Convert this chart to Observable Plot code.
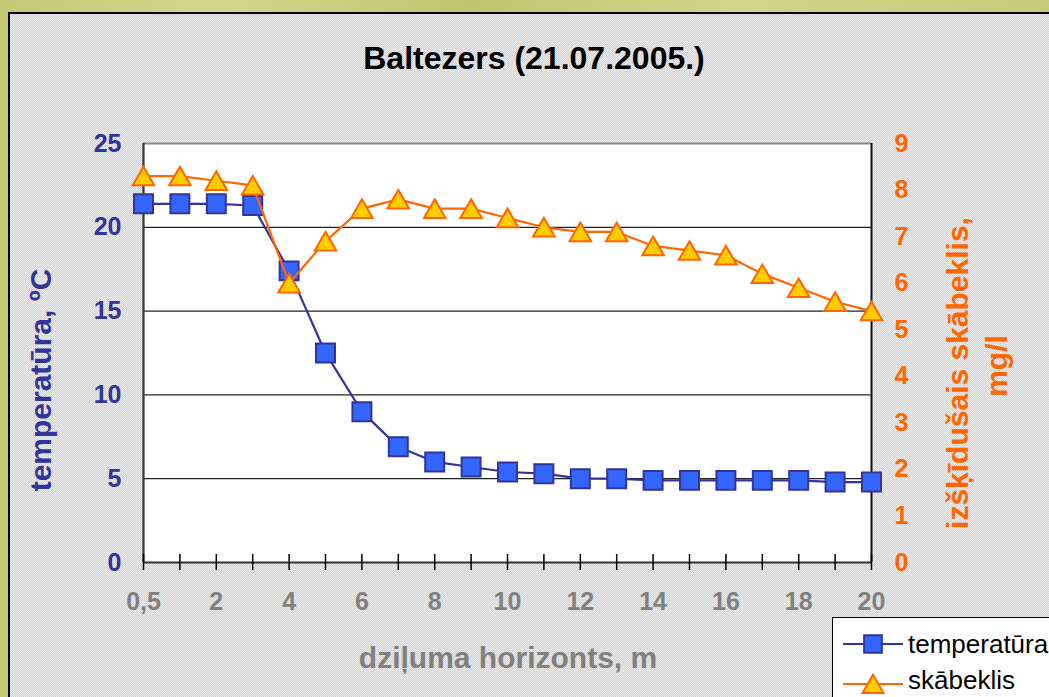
<!DOCTYPE html>
<html>
<head>
<meta charset="utf-8">
<script src="https://cdn.jsdelivr.net/npm/d3@7"></script>
<script src="https://cdn.jsdelivr.net/npm/@observablehq/plot@0.6"></script>
<style>
html, body { margin: 0; padding: 0; }
#page { position: relative; width: 1049px; height: 697px; overflow: hidden;
  background: linear-gradient(90deg, #c3c873 0%, #d4d68c 20%, #c0c56e 45%, #d2d58a 70%, #c6ca78 100%);
  font-family: "Liberation Sans", Arial, sans-serif; }
#panel { position: absolute; left: 8px; top: 12px; width: 1100px; height: 800px; box-sizing: border-box;
  border: 2px solid #000;
  background: repeating-conic-gradient(#d3d3d3 0 25%, #ebebeb 0 50%) 0 0 / 2px 2px; }
#chart { position: absolute; left: 0; top: 0; }
.t { position: absolute; white-space: nowrap; font-weight: bold; line-height: 1; transform: translate(-50%, -50%); }
.r { transform: translate(-50%, -50%) rotate(-90deg); }
#legend { position: absolute; left: 832px; top: 617px; width: 300px; height: 200px; background: #fff; border: 1px solid #000; }
#legend div { position: absolute; left: 75px; font-size: 26px; line-height: 1; color: #000; white-space: nowrap; transform: translateY(-50%); }
#legend svg { position: absolute; left: 0; top: 0; }
</style>
</head>
<body>
<div id="page">
  <div id="panel"></div>
  <div id="chart"></div>
  <div class="t" style="left:534px; top:58px; font-size:32px; color:#000;">Baltezers (21.07.2005.)</div>
  <div class="t r" style="left:41px; top:380px; font-size:30px; color:#333399;">temperatūra, ºC</div>
  <div class="t r" style="left:958px; top:373px; font-size:30px; color:#ff6600;">izšķīdušais skābeklis,</div>
  <div class="t r" style="left:997px; top:366px; font-size:30px; color:#ff6600;">mg/l</div>
  <div class="t" style="left:508px; top:658px; font-size:30px; color:#808080;">dziļuma horizonts, m</div>
  <div id="legend">
    <svg width="300" height="200" id="legsvg"></svg>
    <div style="top:26px;">temperatūra</div>
    <div style="top:62px;">skābeklis</div>
  </div>
</div>
<script>
// Categories (depth horizons, m)
const depth = ["0,5","1","2","3","4","5","6","7","8","9","10","11","12","13","14","15","16","17","18","19","20"];
// Series values
const temperature = [21.4,21.4,21.4,21.3,17.4,12.5,9.0,6.9,6.0,5.7,5.4,5.3,5.0,5.0,4.9,4.9,4.9,4.9,4.9,4.8,4.8];
const oxygen = [8.3,8.3,8.2,8.1,6.0,6.9,7.6,7.8,7.6,7.6,7.4,7.2,7.1,7.1,6.8,6.7,6.6,6.2,5.9,5.6,5.4];
// Tick labels
const depthLabels = ["0,5","2","4","6","8","10","12","14","16","18","20"];
const tempTicks = [0,5,10,15,20,25];
const oxyTicks = [0,1,2,3,4,5,6,7,8,9];

const tempMax = 25, oxyMax = 9;
const k = tempMax / oxyMax;
const rows = depth.map((d, i) => ({depth: d, temperature: temperature[i], oxygen: oxygen[i]}));
const first = depth[0], last = depth[depth.length - 1];

const chart = Plot.plot({
  width: 1049, height: 697,
  marginLeft: 143, marginRight: 178, marginTop: 143, marginBottom: 135,
  style: {background: "transparent", fontFamily: "'Liberation Sans', Arial, sans-serif", fontWeight: "bold", fontSize: "25px", overflow: "visible"},
  x: {type: "point", domain: depth, padding: 0, round: false},
  y: {domain: [0, tempMax]},
  marks: [
    Plot.frame({fill: "white", stroke: null}),
    Plot.ruleY(tempTicks.filter(v => v > 0 && v < tempMax), {y: d => d, stroke: "#222", strokeWidth: 1.2}),
    Plot.ruleY([tempMax], {y: d => d, stroke: "#888", strokeWidth: 2}),
    // axis lines
    Plot.ruleX([first], {x: d => d, y1: 0, y2: tempMax, stroke: "#333", strokeWidth: 2.2}),
    Plot.ruleX([last], {x: d => d, y1: 0, y2: tempMax, stroke: "#111", strokeWidth: 2}),
    Plot.ruleY([0], {y: d => d, stroke: "#333", strokeWidth: 2.2}),
    // cross tick marks
    Plot.ruleX(depth, {x: d => d, y1: 0, y2: 0, insetTop: -8, insetBottom: -8, stroke: "#000", strokeWidth: 1.5}),
    Plot.ruleY(tempTicks, {y: d => d, x1: first, x2: first, insetLeft: -9, insetRight: -9, stroke: "#000", strokeWidth: 1.5}),
    Plot.ruleY(oxyTicks.map(v => v * k), {y: d => d, x1: last, x2: last, insetLeft: -9, insetRight: -9, stroke: "#000", strokeWidth: 1.5}),
    // tick labels
    Plot.axisX(depthLabels, {tickSize: 0, tickPadding: 30, fill: "#808080", label: null}),
    Plot.axisY(tempTicks, {anchor: "left", tickSize: 0, tickPadding: 22, fill: "#333399", label: null}),
    Plot.axisY(oxyTicks.map(v => v * k), {anchor: "right", tickSize: 0, tickPadding: 23, fill: "#ff6600", label: null,
      tickFormat: d => String(Math.round(d / k))}),
    // temperature series
    Plot.line(rows, {x: "depth", y: "temperature", stroke: "#333399", strokeWidth: 2.2}),
    Plot.dot(rows, {x: "depth", y: "temperature", symbol: "square", r: 10.7, fill: "#3366ff", stroke: "#333399", strokeWidth: 2}),
    // oxygen series (mapped onto the secondary axis)
    Plot.line(rows, {x: "depth", y: d => d.oxygen * k, stroke: "#ff6600", strokeWidth: 2.2}),
    Plot.dot(rows, {x: "depth", y: d => d.oxygen * k, symbol: "triangle", r: 8, dy: 3, fill: "#ffcc00", stroke: "#ff6600", strokeWidth: 2})
  ]
});
document.getElementById("chart").appendChild(chart);

// legend swatches
const leg = d3.select("#legsvg");
leg.append("line").attr("x1", 10).attr("x2", 70).attr("y1", 26).attr("y2", 26).attr("stroke", "#333399").attr("stroke-width", 2);
leg.append("path").attr("d", d3.symbol(d3.symbolSquare, Math.PI * 10 * 10)()).attr("transform", "translate(40,26)")
  .attr("fill", "#3366ff").attr("stroke", "#333399").attr("stroke-width", 2);
leg.append("line").attr("x1", 10).attr("x2", 70).attr("y1", 66).attr("y2", 66).attr("stroke", "#ff6600").attr("stroke-width", 2);
leg.append("path").attr("d", d3.symbol(d3.symbolTriangle, Math.PI * 7.8 * 7.8)()).attr("transform", "translate(40,69)")
  .attr("fill", "#ffcc00").attr("stroke", "#ff6600").attr("stroke-width", 2);
</script>
</body>
</html>
